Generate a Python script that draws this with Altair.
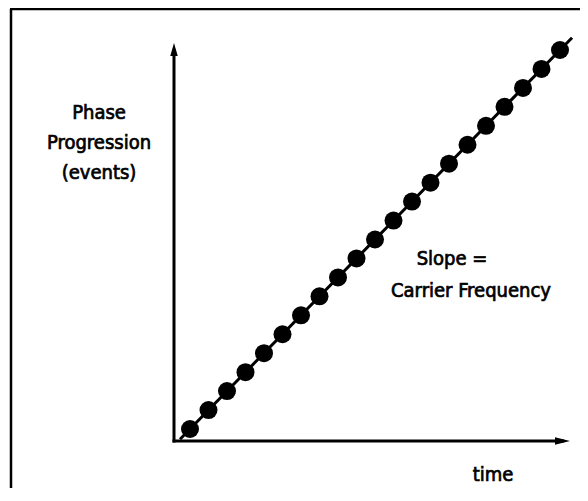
import altair as alt
import pandas as pd

# Data: evenly spaced phase events along time
time = [1, 2, 3, 4, 5, 6, 7, 8, 9, 10, 11, 12, 13, 14, 15, 16, 17, 18, 19, 20, 21]
phase = [1, 2, 3, 4, 5, 6, 7, 8, 9, 10, 11, 12, 13, 14, 15, 16, 17, 18, 19, 20, 21]
line_time = [0.46, 21.65]
line_phase = [0.46, 21.65]
origin = [0.135, 0.367]
y_axis_tip = 21.37
x_axis_tip = 21.54

W, H = 572, 480
xs = alt.Scale(domain=[-8.838, 22.081], nice=False, zero=False)
ys = alt.Scale(domain=[-2.113, 23.216], nice=False, zero=False)
FONT = "DejaVu Sans Condensed, sans-serif"

dots = pd.DataFrame({"t": time, "p": phase})
line_df = pd.DataFrame({"t": line_time, "p": line_phase})

def X(f):
    return alt.X(f, type="quantitative", scale=xs, axis=None)

def Y(f):
    return alt.Y(f, type="quantitative", scale=ys, axis=None)

y_axis = alt.Chart(pd.DataFrame({"t": [origin[0]], "p": [origin[1] - 0.08], "p2": [y_axis_tip - 0.32]})).mark_rule(
    color="black", strokeWidth=3).encode(x=X("t"), y=Y("p"), y2="p2")
x_axis = alt.Chart(pd.DataFrame({"t": [origin[0] - 0.08], "t2": [x_axis_tip - 0.32], "p": [origin[1]]})).mark_rule(
    color="black", strokeWidth=3).encode(x=X("t"), x2="t2", y=Y("p"))

y_arrow = alt.Chart(pd.DataFrame({"t": [origin[0]], "p": [y_axis_tip]})).mark_point(
    shape="M0,0L0.75,2.6L-0.75,2.6Z", filled=True, size=100, color="black", opacity=1, strokeWidth=0
).encode(x=X("t"), y=Y("p"))
x_arrow = alt.Chart(pd.DataFrame({"t": [x_axis_tip], "p": [origin[1]]})).mark_point(
    shape="M0,0L-3,0.75L-3,-0.75Z", filled=True, size=100, color="black", opacity=1, strokeWidth=0
).encode(x=X("t"), y=Y("p"))

line = alt.Chart(line_df).mark_line(color="black", strokeWidth=3).encode(x=X("t"), y=Y("p"))
points = alt.Chart(dots).mark_circle(size=324, color="black", opacity=1).encode(x=X("t"), y=Y("p"))

frame_left = alt.Chart().mark_rule(color="black", strokeWidth=2.5).encode(
    x=alt.value(3), y=alt.value(1), y2=alt.value(H))
frame_top = alt.Chart().mark_rule(color="black", strokeWidth=2.5).encode(
    x=alt.value(2), x2=alt.value(W), y=alt.value(1))

def label(text, px, py):
    return alt.Chart().mark_text(text=text, font=FONT, fontSize=20, color="black",
                                 stroke="black", strokeWidth=0.7,
                                 align="center", baseline="middle").encode(
        x=alt.value(px), y=alt.value(py))

labels = [
    label("Phase", 91, 105),
    label("Progression", 91, 135),
    label("(events)", 91, 165),
    label("Slope =", 444, 251),
    label("Carrier Frequency", 463, 283),
    label("time", 485, 467),
]

chart = alt.layer(frame_left, frame_top, line, points, y_axis, x_axis, y_arrow, x_arrow, *labels).properties(
    width=W, height=H, autosize=alt.AutoSizeParams(type="none"), padding=0
).configure_view(stroke=None)

chart.save("out.html", embed_options={"renderer": "svg", "actions": False})
